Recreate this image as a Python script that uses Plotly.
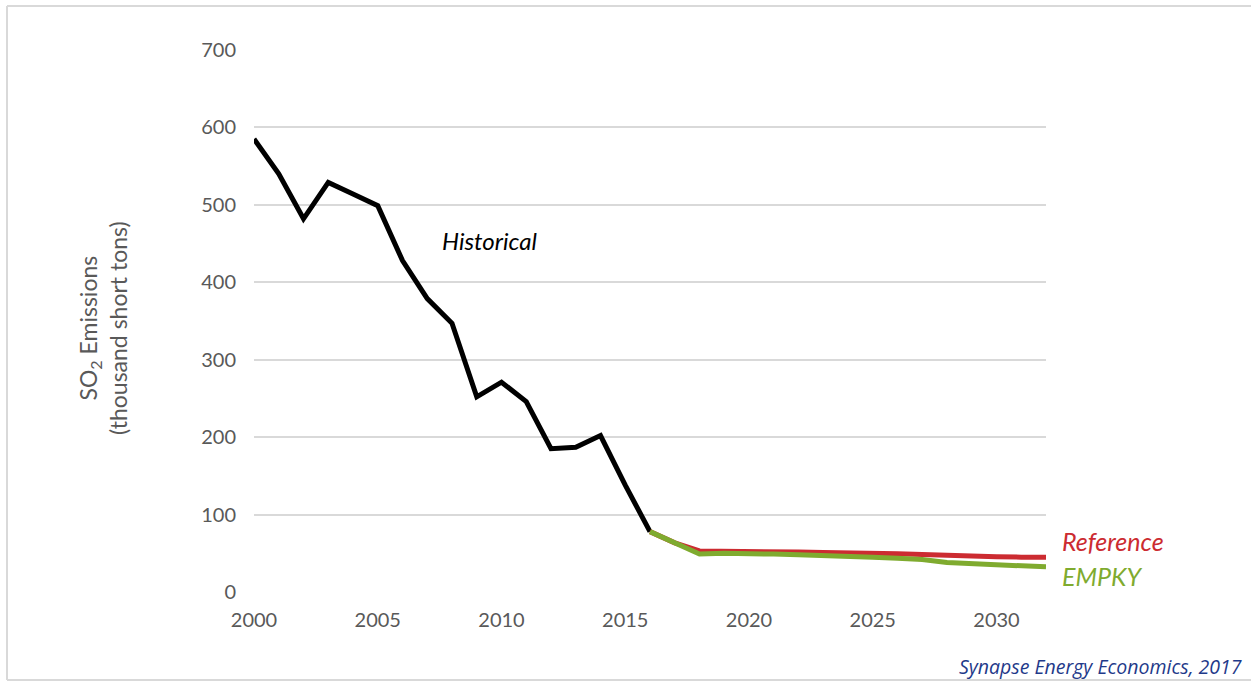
import plotly.graph_objects as go

# ---- data ----
hist_years = list(range(2000, 2017))
hist_values = [585, 540, 482, 529, 514, 499, 428, 379, 347, 252, 271, 246, 185, 187, 202, 138, 78]

proj_years = list(range(2016, 2033))
reference_values = [78, 63.5, 53, 53, 53, 52, 51.5, 51, 51, 50, 49.5, 48.5, 47, 46.5, 45.5, 45, 45]
empky_values = [78, 63.5, 49, 50, 50, 49, 48, 47.5, 46, 45, 43.5, 42, 38, 36.5, 34.5, 33, 32.5]

x_ticks = [2000, 2005, 2010, 2015, 2020, 2025, 2030]
y_ticks = [0, 100, 200, 300, 400, 500, 600, 700]

GRAY = "#595959"
RED = "#cc2b31"
GREEN = "#7fab2f"

fig = go.Figure()
fig.add_trace(go.Scatter(x=hist_years, y=hist_values, mode="lines",
                         line=dict(color="#000000", width=5), name="Historical"))
fig.add_trace(go.Scatter(x=proj_years, y=reference_values, mode="lines",
                         line=dict(color=RED, width=5), name="Reference"))
fig.add_trace(go.Scatter(x=proj_years, y=empky_values, mode="lines",
                         line=dict(color=GREEN, width=5), name="EMPKY"))

W, H = 1251, 682
L, R, T, B = 254, 205, 50, 90
pw, ph = W - L - R, H - T - B

def px(xp):
    return (xp - L) / pw

def py(yp):
    return (H - B - yp) / ph

border = dict(color="#d9d9d9", width=2)
fig.update_layout(
    width=W, height=H,
    margin=dict(l=L, r=R, t=T, b=B),
    paper_bgcolor="white", plot_bgcolor="white",
    showlegend=False,
    font=dict(family="Lato, sans-serif", color=GRAY, size=18),
    xaxis=dict(range=[2000, 2032], tickvals=x_ticks, showgrid=False, zeroline=False,
               showline=False, ticks="", ticklabelstandoff=14,
               tickfont=dict(size=20, color=GRAY)),
    yaxis=dict(range=[0, 700], tickvals=y_ticks, showgrid=True, gridcolor="#d9d9d9",
               gridwidth=1.5, zeroline=False, showline=False, ticks="",
               ticklabelstandoff=17, tickfont=dict(size=20, color=GRAY)),
    shapes=[
        dict(type="line", xref="paper", yref="paper", x0=px(7), x1=px(1251),
             y0=py(6), y1=py(6), line=border, layer="below"),
        dict(type="line", xref="paper", yref="paper", x0=px(7), x1=px(1251),
             y0=py(680), y1=py(680), line=border, layer="below"),
        dict(type="line", xref="paper", yref="paper", x0=px(7), x1=px(7),
             y0=py(6), y1=py(680), line=border, layer="below"),
    ],
    annotations=[
        dict(text="SO<sub>2</sub> Emissions<br>(thousand short tons)", xref="paper", yref="paper",
             x=px(103), y=py(328), textangle=-90, showarrow=False,
             font=dict(size=23, color=GRAY), xanchor="center", yanchor="middle"),
        dict(text="<i>Historical</i>", x=2009.5, y=454, showarrow=False,
             font=dict(size=24, color="#000000"), xanchor="center", yanchor="middle"),
        dict(text="<i>Reference</i>", xref="paper", yref="paper", x=px(1060), y=py(541),
             showarrow=False, font=dict(size=25, color=RED), xanchor="left", yanchor="middle"),
        dict(text="<i>EMPKY</i>", xref="paper", yref="paper", x=px(1060), y=py(576),
             showarrow=False, font=dict(size=25, color=GREEN), xanchor="left", yanchor="middle"),
        dict(text="<i>Synapse Energy Economics, 2017</i>", xref="paper", yref="paper",
             x=px(1244), y=py(666), showarrow=False,
             font=dict(size=19.5, color="#1f3a8a", family="Open Sans, sans-serif"),
             xanchor="right", yanchor="middle"),
    ],
)

fig.write_html("out.html", config={"displayModeBar": False},
               post_script="document.body.style.margin='0';")
